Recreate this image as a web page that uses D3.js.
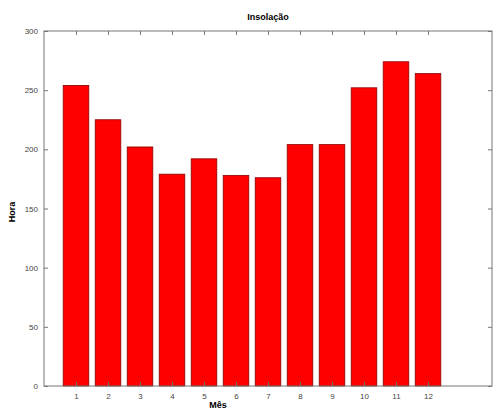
<!DOCTYPE html>
<html><head><meta charset="utf-8">
<script src="https://cdn.jsdelivr.net/npm/d3@7"></script>
<style>body{margin:0;background:#fff}svg{display:block}</style>
</head><body>
<script>
const months = [1,2,3,4,5,6,7,8,9,10,11,12];
const hours = [254,225,202,179,192,178,176,204,204,252,274,264];
const yTicks = [0,50,100,150,200,250,300];
const xTicks = months;
const title = "Insolação", xTitle = "Mês", yTitle = "Hora";

const W = 496, H = 412;
const m = {left:44, right:4, top:31, bottom:26};
const svg = d3.select("body").append("svg").attr("width",W).attr("height",H);
const x = d3.scaleLinear().domain([0,14]).range([m.left, W-m.right]);
const y = d3.scaleLinear().domain([0,300]).range([H-m.bottom, m.top]);
const bw = (x(0.8)-x(0));

svg.append("g").selectAll("rect").data(months).join("rect")
  .attr("x", (d)=>x(d)-bw/2).attr("width", bw)
  .attr("y", (d,i)=>y(hours[i])).attr("height",(d,i)=>y(0)-y(hours[i]))
  .attr("fill","#ff0000").attr("stroke","#8a0000").attr("stroke-width",0.8);

const font = "Liberation Sans, Arial, sans-serif";
const axisCol = "#777";
function style(g){
  g.select(".domain").remove();
  g.selectAll("line").attr("stroke",axisCol);
  g.selectAll("text").attr("font-family",font).attr("font-size",8).attr("fill","#444");
}
svg.append("g").attr("transform",`translate(0,${y(0)})`)
  .call(d3.axisBottom(x).tickValues(xTicks).tickSize(-4).tickPadding(7)).call(style);
svg.append("g").attr("transform",`translate(0,${y(300)})`)
  .call(d3.axisTop(x).tickValues(xTicks).tickSize(-4).tickFormat("")).call(style);
svg.append("g").attr("transform",`translate(${x(0)},0)`)
  .call(d3.axisLeft(y).tickValues(yTicks).tickSize(-4).tickPadding(6)).call(style);
svg.append("g").attr("transform",`translate(${x(14)},0)`)
  .call(d3.axisRight(y).tickValues(yTicks).tickSize(-4).tickFormat("")).call(style);

svg.append("rect").attr("x",x(0)).attr("y",y(300)).attr("width",x(14)-x(0)).attr("height",y(0)-y(300))
  .attr("fill","none").attr("stroke",axisCol).attr("stroke-width",1);

svg.append("text").attr("x",(x(0)+x(14))/2).attr("y",20).attr("text-anchor","middle")
  .attr("font-family",font).attr("font-weight","bold").attr("font-size",9).text(title);
svg.append("text").attr("x",218).attr("y",408).attr("text-anchor","middle")
  .attr("font-family",font).attr("font-weight","bold").attr("font-size",9).text(xTitle);
svg.append("text").attr("transform","translate(15,212) rotate(-90)").attr("text-anchor","middle")
  .attr("font-family",font).attr("font-weight","bold").attr("font-size",9).text(yTitle);
</script>
</body></html>
